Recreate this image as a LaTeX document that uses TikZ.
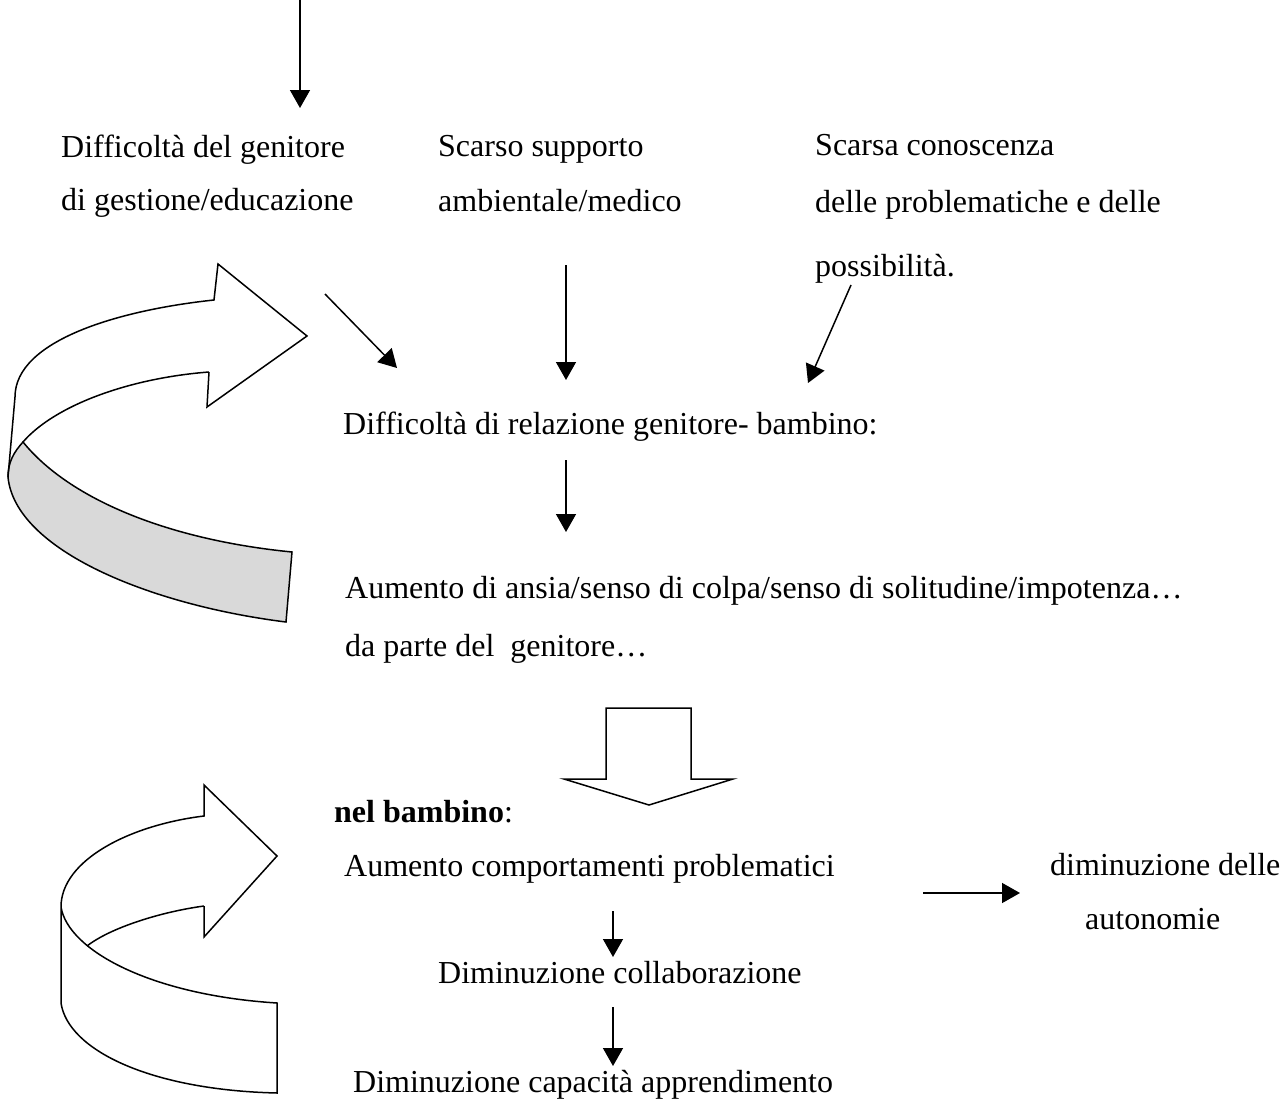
\documentclass[tikz,border=0pt]{standalone}
\usepackage{fontspec}
\setmainfont{Liberation Serif}
\usetikzlibrary{arrows.meta}
\definecolor{bandgray}{RGB}{217,217,217}
\begin{document}
\begin{tikzpicture}[x=1pt,y=-1pt,
  txt/.style={anchor=base west, inner sep=0pt, font=\fontsize{32}{38}\selectfont},
  arr/.style={line width=1.5pt, -{Triangle[length=18pt,width=20pt]}},
  ribbon/.style={line width=1.5pt, line join=miter}]
\useasboundingbox (0,0) rectangle (1288,1100);
% texts
\node[txt] (dg1) at (61,157) {Difficoltà del genitore};
\node[txt] (dg2) at (61,210) {di gestione/educazione};
\node[txt] (ss1) at (438,156) {Scarso supporto};
\node[txt] (ss2) at (438,211) {ambientale/medico};
\node[txt] (sc1) at (815,155) {Scarsa conoscenza};
\node[txt] (sc2) at (815,212) {delle problematiche e delle};
\node[txt] (sc3) at (815,276) {possibilità.};
\node[txt] (rel) at (343,434) {Difficoltà di relazione genitore- bambino:};
\node[txt] (ans1) at (345,598) {Aumento di ansia/senso di colpa/senso di solitudine/impotenza…};
\node[txt] (ans2) at (345,656) {da parte del\ \ genitore…};
\node[txt] (nel) at (334,822) {\textbf{nel bambino}:};
\node[txt] (com) at (344,876) {Aumento comportamenti problematici};
\node[txt] (dim1) at (1050,875) {diminuzione delle};
\node[txt] (dim2) at (1085,929) {autonomie};
\node[txt] (col) at (438,983) {Diminuzione collaborazione};
\node[txt] (cap) at (353,1092) {Diminuzione capacità apprendimento};
% arrow end points
\coordinate (a0s) at (300,0);     \coordinate (a0e) at (300,108);
\coordinate (a1s) at (325,294);   \coordinate (a1e) at (397,368);
\coordinate (a2s) at (566,265);   \coordinate (a2e) at (566,380);
\coordinate (a3s) at (851,285);   \coordinate (a3e) at (808,383);
\coordinate (a4s) at (566,460);   \coordinate (a4e) at (566,532);
\coordinate (a5s) at (923,893);   \coordinate (a5e) at (1020,893);
\coordinate (a6s) at (613,911);   \coordinate (a6e) at (613,957);
\coordinate (a7s) at (613,1007);  \coordinate (a7e) at (613,1066);
\draw[arr] (a0s) -- (a0e);
\draw[arr] (a1s) -- (a1e);
\draw[arr] (a2s) -- (a2e);
\draw[arr] (a3s) -- (a3e);
\draw[arr] (a4s) -- (a4e);
\draw[arr] (a5s) -- (a5e);
\draw[arr] (a6s) -- (a6e);
\draw[arr] (a7s) -- (a7e);
% block arrow down
\draw[ribbon] (606,708) -- (691,708) -- (691,779) -- (733,779) -- (649,805) -- (564,779) -- (606,779) -- cycle;
% upper curved ribbon arrow
\coordinate (i1) at (23,442);
\draw[ribbon, fill=bandgray] (i1) .. controls (70,500) and (170,540) .. (292,552) -- (286,622)
   .. controls (150,605) and (15,550) .. (8,477) .. controls (8,462) and (14,452) .. (i1) -- cycle;
\draw[ribbon] (209,372) -- (207,407) -- (307,336) -- (218,264) -- (214,300)
   .. controls (120,310) and (15,340) .. (15,397) -- (8,477);
\draw[ribbon] (209,372) .. controls (130,378) and (55,405) .. (i1);
% lower curved ribbon arrow
\draw[ribbon] (204,906) -- (204,937) -- (277,856) -- (204,785) -- (204,816)
   .. controls (130,825) and (61,860) .. (61,907) -- (61,1003)
   .. controls (68,1050) and (150,1090) .. (277,1093) -- (277,1003)
   .. controls (150,995) and (68,950) .. (61,907);
\draw[ribbon] (204,906) .. controls (160,912) and (110,928) .. (87,946);
\end{tikzpicture}
\end{document}
